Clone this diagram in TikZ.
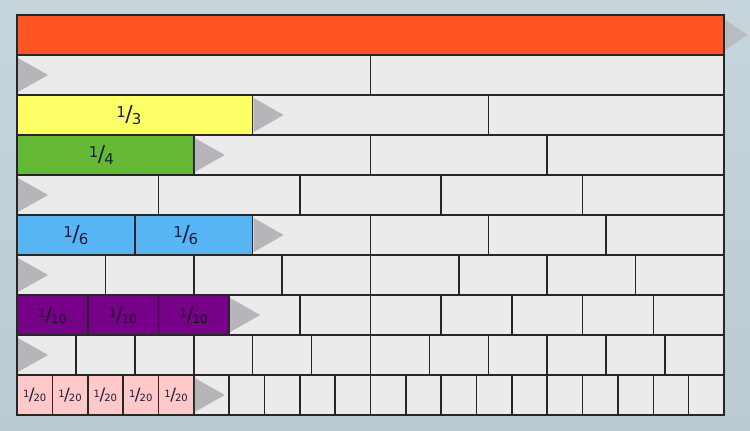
\documentclass[tikz,border=0pt]{standalone}
\usepackage{tikz}
\usepackage{fontspec}
\setmainfont{DejaVu Sans}
\definecolor{bg}{HTML}{BCCBD3}
\definecolor{bgtop}{HTML}{C6D4DB}
\definecolor{cellgray}{HTML}{EBEBEB}
\definecolor{orng}{HTML}{FF5524}
\definecolor{yel}{HTML}{FFFF66}
\definecolor{grn}{HTML}{66B935}
\definecolor{blu}{HTML}{58B5F5}
\definecolor{pur}{HTML}{770088}
\definecolor{pnk}{HTML}{FFC9C9}
\definecolor{trig}{HTML}{B6B6BA}
\definecolor{ink}{HTML}{1C1C3C}
\tikzset{
  cell/.style={draw=black!85, line width=1.6pt, minimum height=40pt, minimum width=#1, inner sep=0pt, outer sep=0pt, anchor=north west},
  tri/.style={fill=trig},
  lbl/.style={text=ink, inner sep=0pt}
}
% fraction 1/n, sizes: small digits, big slash
\newcommand{\frc}[3]{{\fontsize{#2}{#2}\selectfont\raisebox{0.3em}{1}}\kern-0.05em{\fontsize{#3}{#3}\selectfont /}\kern-0.1em{\fontsize{#2}{#2}\selectfont\raisebox{-0.15em}{#1}}}
\begin{document}
\begin{tikzpicture}[x=1pt,y=-1pt]
\shade[top color=bgtop, bottom color=bg] (0,0) rectangle (750,431);
\useasboundingbox (0,0) rectangle (750,431);
% triangle behind first row
\fill[fill=trig!70!bg] (724,19) -- (747,35) -- (724,51) -- cycle;
\foreach \n/\c/\m [count=\r from 0] in {1/orng/1, 2/cellgray/0, 3/yel/1, 4/grn/1, 5/cellgray/0, 6/blu/2, 8/cellgray/0, 10/pur/3, 12/cellgray/0, 20/pnk/5}{
  \pgfmathsetmacro\w{707/\n}
  \foreach \k in {1,...,\n}{
    \ifnum\k>\m \def\fc{cellgray}\else\def\fc{\c}\fi
    \node[cell=\w pt, fill=\fc] (r\r c\k) at ({17+(\k-1)*\w},{15+\r*40}) {};
  }
  \ifnum\m<\n
    \pgfmathsetmacro\xs{17+\m*\w+1}
    \fill[tri] (\xs,{15+\r*40+3}) -- ({\xs+30},{15+\r*40+20}) -- (\xs,{15+\r*40+37}) -- cycle;
  \fi
}
% labels
\node[lbl] (l3) at ([xshift=-6pt]r2c1.center) {\frc{3}{15}{22}};
\node[lbl] (l4) at ([xshift=-4pt]r3c1.center) {\frc{4}{15}{22}};
\node[lbl] (l6a) at (r5c1.center) {\frc{6}{15}{22}};
\node[lbl] (l6b) at ([xshift=-8pt]r5c2.center) {\frc{6}{15}{22}};
\foreach \k in {1,2,3}{
  \node[lbl, text=black!75!pur] (l10\k) at (r7c\k.center) {\frc{10}{12}{20}};
}
\foreach \k in {1,...,5}{
  \node[lbl] (l20\k) at (r9c\k.center) {\frc{20}{10}{17}};
}
\end{tikzpicture}
\end{document}
